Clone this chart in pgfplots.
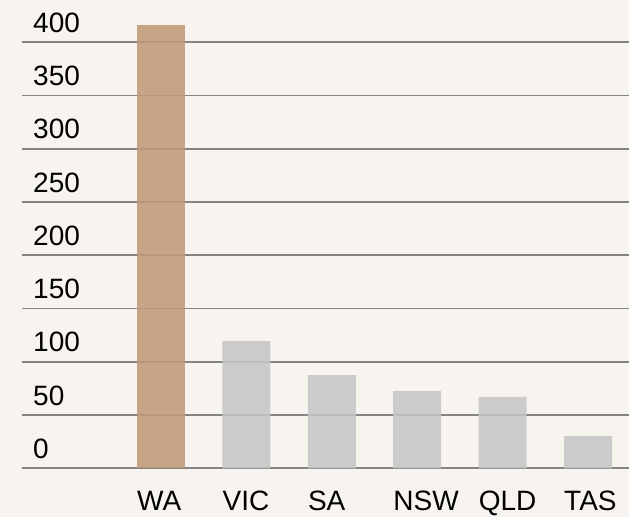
\documentclass[border=0pt]{standalone}
\usepackage{fontspec}
\setmainfont{Liberation Sans}
\usepackage{pgfplots}
\pgfplotsset{compat=1.18}
\definecolor{bg}{HTML}{F7F4F0}
\definecolor{barbrown}{HTML}{C29A78}
\definecolor{bargray}{HTML}{C6C6C6}
\definecolor{gridgray}{HTML}{848484}

\begin{document}
\begin{tikzpicture}[x=1pt,y=1pt]
\path[use as bounding box, fill=bg] (-22,-48.7) rectangle (607,468.3);
\begin{axis}[
  at={(0,0)}, anchor=south west,
  scale only axis, width=607pt, height=426pt,
  ymin=0, ymax=400, xmin=-1.628, xmax=5.48,
  axis line style={draw=none},
  ytick={0,50,...,400},
  ymajorgrids, grid style={gridgray, line width=1.8pt},
  major tick length=0pt,
  xtick={0,...,5}, xticklabels={WA,VIC,SA,NSW,QLD,TAS},
  font=\fontsize{28}{30}\selectfont,
  /pgf/number format/assume math mode=true,
  yticklabel style={anchor=base west, inner sep=0pt, xshift=11pt, yshift=10pt},
  xticklabel style={anchor=base west, inner sep=0pt, xshift=-24pt, yshift=-42.4pt},
  clip=false,
]
\addplot[ybar, bar width=48pt, bar shift=0pt, fill=barbrown, fill opacity=0.88, draw=none]
  coordinates {(0,416)};
\addplot[ybar, bar width=48pt, bar shift=0pt, fill=bargray, fill opacity=0.88, draw=none]
  coordinates {(1,119.5) (2,87.6) (3,72.6) (4,67) (5,30.3)};
\end{axis}
\end{tikzpicture}
\end{document}
